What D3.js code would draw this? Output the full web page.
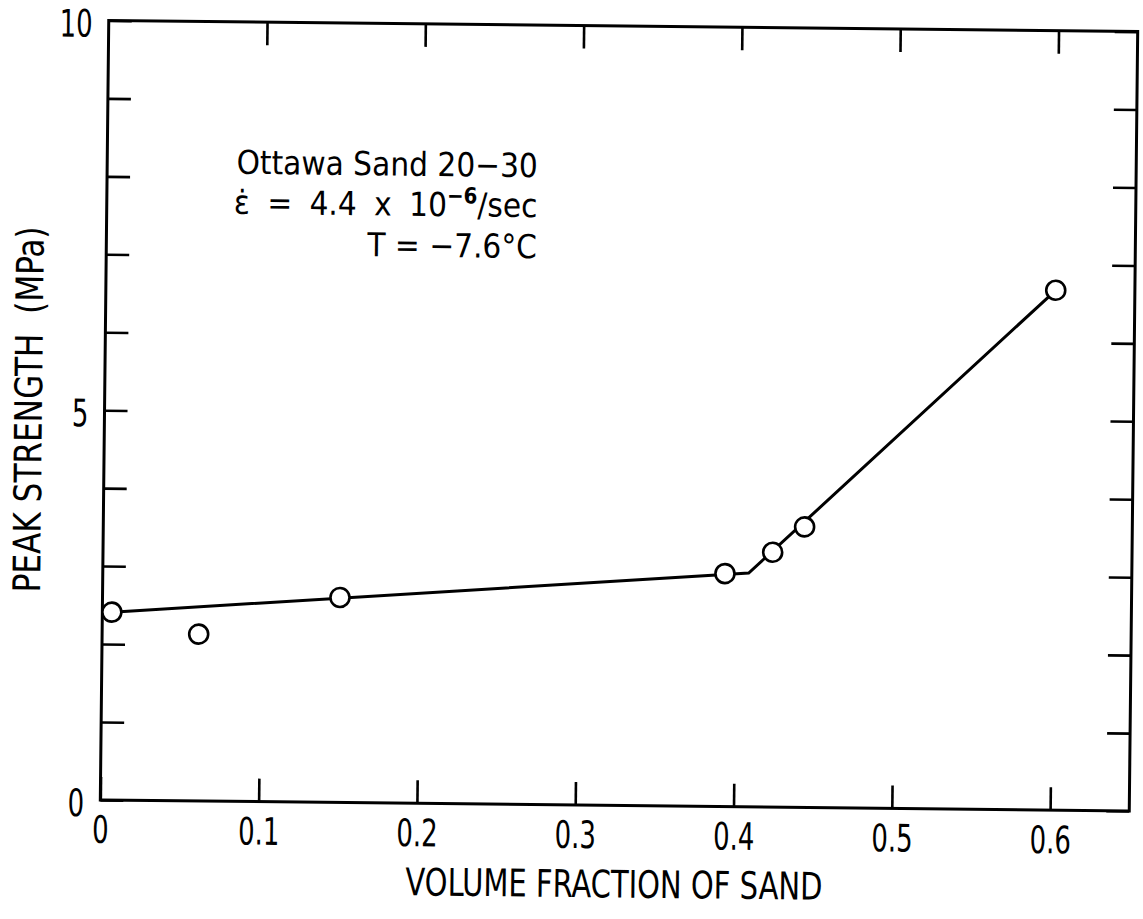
<!DOCTYPE html>
<html>
<head>
<meta charset="utf-8">
<script src="https://cdn.jsdelivr.net/npm/d3@7"></script>
<style>
  body { margin: 0; background: #fff; }
  text { font-family: 'Liberation Sans Narrow', 'DejaVu Sans Condensed', 'Liberation Sans', sans-serif; fill: #000; }
</style>
</head>
<body>
<div id="chart"></div>
<script>
// measured points (volume fraction of sand, peak strength in MPa)
var sandFraction = [0.006, 0.061, 0.150, 0.393, 0.423, 0.443, 0.600];
var peakStrength = [2.41, 2.14, 2.63, 2.99, 3.27, 3.60, 6.67];

// fitted bilinear line
var fitFraction = [0.006, 0.408, 0.600];
var fitStrength = [2.41, 3.00, 6.67];

var xTicks = [0, 0.1, 0.2, 0.3, 0.4, 0.5, 0.6];
var yTicks = [0, 1, 2, 3, 4, 5, 6, 7, 8, 9, 10];
var yLabels = [0, 5, 10];

var noteLines = ['Ottawa Sand 20\u221230', '\u03b5\u0307 = 4.4 x 10', 'T = \u22127.6\u00b0C'];

//constants
var width = 1143,
  height = 919,
  marginLeft = 104.5,
  marginTop = 26,
  plotW = 1029,
  plotH = 779.5,
  tilt = 0.62,
  squeeze = 0.76;

var svg = d3.select('#chart')
    .append('svg')
    .attr('width', width)
    .attr('height', height);

var g = svg.append('g')
    .attr('transform', 'rotate(' + tilt + ',619,416) translate(' + marginLeft + ',' + marginTop + ')');

var x = d3.scaleLinear().domain([0, 0.65]).range([0, plotW]);
var y = d3.scaleLinear().domain([0, 10]).range([plotH, 0]);

function styleAxis(sel) {
  sel.select('.domain').remove();
  sel.selectAll('.tick line')
    .attr('stroke', '#000')
    .attr('stroke-width', 2.6);
  sel.selectAll('.tick text')
    .attr('font-size', '38px')
    .attr('font-family', null)
    .attr('transform', 'scale(' + squeeze + ',1)');
}

g.append('g')
    .attr('transform', 'translate(0,' + plotH + ')')
    .call(d3.axisBottom(x)
      .tickValues(xTicks)
      .tickSize(-23)
      .tickPadding(16)
      .tickFormat(d3.format('.1~f')))
    .call(styleAxis);

g.append('g')
    .call(d3.axisTop(x)
      .tickValues(xTicks.slice(1))
      .tickSize(-23)
      .tickFormat(''))
    .call(styleAxis);

g.append('g')
    .call(d3.axisLeft(y)
      .tickValues(yTicks)
      .tickSize(-23)
      .tickPadding(16 / squeeze)
      .tickFormat(function(d) { return yLabels.indexOf(d) >= 0 ? d : ''; }))
    .call(styleAxis)
    .selectAll('.tick text')
    .attr('dy', '0.42em');

g.append('g')
    .attr('transform', 'translate(' + plotW + ',0)')
    .call(d3.axisRight(y)
      .tickValues(yTicks)
      .tickSize(-23)
      .tickFormat(''))
    .call(styleAxis);

// frame
g.append('rect')
    .attr('width', plotW)
    .attr('height', plotH)
    .attr('fill', 'none')
    .attr('stroke', '#000')
    .attr('stroke-width', 3);

// fitted line
var line = d3.line()
    .x(function(d) { return x(d[0]); })
    .y(function(d) { return y(d[1]); });

g.append('path')
    .datum(d3.zip(fitFraction, fitStrength))
    .attr('d', line)
    .attr('fill', 'none')
    .attr('stroke', '#000')
    .attr('stroke-width', 3);

g.append('g')
  .selectAll('circle')
    .data(d3.zip(sandFraction, peakStrength))
    .enter()
    .append('circle')
    .attr('cx', function(d) { return x(d[0]); })
    .attr('cy', function(d) { return y(d[1]); })
    .attr('r', 9.5)
    .attr('fill', '#fff')
    .attr('stroke', '#000')
    .attr('stroke-width', 2.6);

// annotation, right aligned
var note = g.append('g')
    .attr('transform', 'translate(' + x(0.272) + ',' + y(8.05) + ')')
    .attr('font-size', '33px')
    .attr('text-anchor', 'end');

note.append('text')
    .attr('y', 0)
    .text(noteLines[0]);

var rate = note.append('text')
    .attr('y', 40)
    .attr('word-spacing', '8px');
rate.append('tspan').text(noteLines[1]);
rate.append('tspan')
    .attr('dy', -13)
    .attr('font-size', '22px')
    .attr('font-weight', 'bold')
    .text('\u22126');
rate.append('tspan')
    .attr('dy', 13)
    .text('/sec');

note.append('text')
    .attr('y', 81)
    .text(noteLines[2]);

// axis titles
g.append('text')
    .attr('x', plotW / 2)
    .attr('y', plotH + 92)
    .attr('text-anchor', 'middle')
    .attr('font-size', '38px')
    .attr('textLength', 417)
    .attr('lengthAdjust', 'spacingAndGlyphs')
    .text('VOLUME FRACTION OF SAND');

g.append('text')
    .attr('transform', 'translate(-62.6,' + (plotH / 2) + ') rotate(-90)')
    .attr('text-anchor', 'middle')
    .attr('font-size', '38px')
    .attr('textLength', 366)
    .attr('lengthAdjust', 'spacingAndGlyphs')
    .text('PEAK STRENGTH \u00a0(MPa)');
</script>
</body>
</html>
